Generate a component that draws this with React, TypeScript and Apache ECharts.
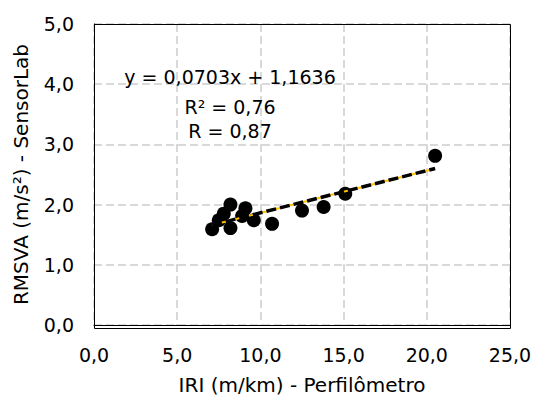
import React, { useEffect, useRef } from "react";
import * as echarts from "echarts";

// Data
const iri = [7.1, 7.5, 7.8, 8.2, 8.2, 8.9, 9.1, 9.6, 10.7, 12.5, 13.8, 15.1, 20.5];
const rmsva = [1.59, 1.74, 1.85, 1.61, 2.0, 1.81, 1.94, 1.74, 1.68, 1.9, 1.96, 2.18, 2.81];
const trendX = [7.1, 20.5];
const trendY = [1.66, 2.6];
const equationLines = ["y = 0,0703x + 1,1636", "R² = 0,76", "R = 0,87"];
const xAxisName = "IRI (m/km) - Perfilômetro";
const yAxisName = "RMSVA (m/s²) - SensorLab";

const FONT = "DejaVu Sans";
const fmt = (v: number) => v.toFixed(1).replace(".", ",");

export default function App() {
  const ref = useRef<HTMLDivElement>(null);
  useEffect(() => {
    document.body.style.margin = "0";
    const chart = echarts.init(ref.current!, null, { renderer: "svg" });
    const textLineY = [77, 107, 131];
    const G = { left: 94, right: 26, top: 24, bottom: 72 };
    chart.setOption({
      animation: false,
      backgroundColor: "#fff",
      grid: { ...G, show: false },
      xAxis: {
        type: "value",
        min: 0,
        max: 25,
        interval: 5,
        axisLine: { show: true, lineStyle: { color: "#000", width: 1 } },
        axisTick: { show: false },
        splitLine: { show: true, lineStyle: { color: "#d9d9d9", width: 2, type: [8, 4] } },
        axisLabel: { color: "#000", fontSize: 19, fontFamily: FONT, margin: 20, formatter: fmt },
        name: xAxisName,
        nameLocation: "middle",
        nameGap: 50,
        nameTextStyle: { color: "#000", fontSize: 20, fontFamily: FONT },
      },
      yAxis: {
        type: "value",
        min: 0,
        max: 5,
        interval: 1,
        axisLine: { show: true, lineStyle: { color: "#000", width: 1 } },
        axisTick: { show: false },
        splitLine: { show: true, lineStyle: { color: "#d9d9d9", width: 2, type: [8, 4] } },
        axisLabel: { color: "#000", fontSize: 19, fontFamily: FONT, margin: 20, formatter: fmt },
        name: yAxisName,
        nameLocation: "middle",
        nameGap: 63,
        nameTextStyle: { color: "#000", fontSize: 20, fontFamily: FONT },
      },
      series: [
        {
          type: "scatter",
          data: iri.map((x, i) => [x, rmsva[i]]),
          symbol: "circle",
          symbolSize: 14,
          itemStyle: { color: "#000", opacity: 1 },
          z: 2,
        },
        {
          type: "line",
          data: trendX.map((x, i) => [x, trendY[i]]),
          showSymbol: false,
          lineStyle: { color: "#FFC000", width: 2 },
          z: 3,
        },
        {
          type: "line",
          data: trendX.map((x, i) => [x, trendY[i]]),
          showSymbol: false,
          lineStyle: { color: "#000", width: 3.5, type: [10, 4] },
          z: 4,
        },
      ],
      graphic: [
        {
          type: "rect",
          z: 100,
          silent: true,
          shape: { x: G.left + 0.5, y: G.top + 0.5, width: 536 - G.left - G.right, height: 400 - G.top - G.bottom },
          style: { fill: "none", stroke: "#000", lineWidth: 1 },
        },
        ...equationLines.map((t, i) => ({
          type: "text",
          x: 230,
          y: textLineY[i],
          z: 10,
          style: {
            text: t,
            fill: "#000",
            font: `19px "${FONT}"`,
            textAlign: "center",
            textVerticalAlign: "middle",
          },
        })),
      ],
    });
    return () => chart.dispose();
  }, []);
  return <div ref={ref} style={{ width: 536, height: 400 }} />;
}
